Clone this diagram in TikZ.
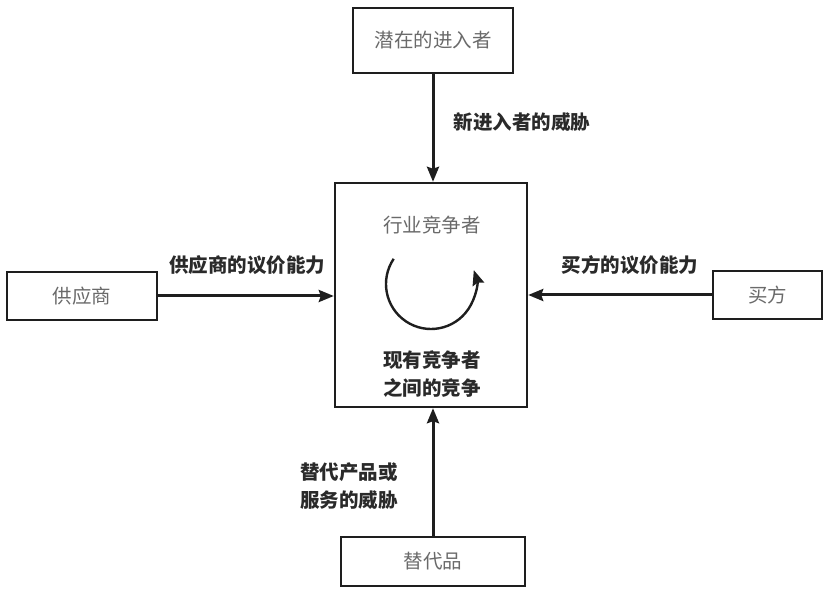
\documentclass[tikz,border=0pt]{standalone}
\usepackage{fontspec}
\newfontfamily\cjk{Noto Sans CJK SC}
\usetikzlibrary{arrows.meta,calc}
\definecolor{boxtext}{HTML}{6A6A6A}
\definecolor{labtext}{HTML}{2A2A2A}
\definecolor{linec}{HTML}{1E1E1E}
\tikzset{
  box/.style={draw=linec, line width=2.4pt, rectangle, inner sep=0pt, fill=white,
    font=\cjk\fontsize{19.5}{24}\selectfont, text=boxtext},
  lab/.style={font=\cjk\bfseries\fontsize{19.5}{28}\selectfont, text=labtext, inner sep=0pt, align=center},
  arr/.style={draw=linec, line width=3pt, -{Stealth[length=15pt,width=12pt,inset=2pt]}},
}
\begin{document}
\begin{tikzpicture}[x=1pt,y=-1pt]
\useasboundingbox[fill=white] (0,0) rectangle (831,593);
\node[box, minimum width=160, minimum height=65] (top) at (433,40.5) {潜在的进入者};
\node[box, minimum width=192, minimum height=224] (ind) at (431,295) {};
\node[box, minimum width=150, minimum height=48] (sup) at (82,296) {供应商};
\node[box, minimum width=109, minimum height=48] (buy) at (767.5,295) {买方};
\node[box, minimum width=184, minimum height=49] (sub) at (433,561.5) {替代品};
\node[font=\cjk\fontsize{19.5}{24}\selectfont, text=boxtext, inner sep=0pt] (indt) at (432,225) {行业竞争者};
\node[lab] (rival) at (432,374) {现有竞争者\\之间的竞争};
\coordinate (cc) at (431,284);
\draw[draw=linec, line width=2.4pt, -{Stealth[length=15pt,width=12pt,inset=2pt]}]
  ($(cc)+(-146:45)$) coordinate (cs) arc[start angle=-146, end angle=-378, radius=45];
% arrows
\draw[arr] (top.south) -- (top.south |- ind.north);
\draw[arr] (sup.east) -- (sup.east -| ind.west);
\draw[arr] (buy.west) -- (buy.west -| ind.east);
\draw[arr] (sub.north) -- (sub.north |- ind.south);
% labels
\node[lab] (lnew) at (522,122) {新进入者的威胁};
\node[lab] (lsup) at (247,265) {供应商的议价能力};
\node[lab] (lbuy) at (630,265) {买方的议价能力};
\node[lab] (lsub) at (349,486) {替代产品或\\服务的威胁};
\end{tikzpicture}
\end{document}
